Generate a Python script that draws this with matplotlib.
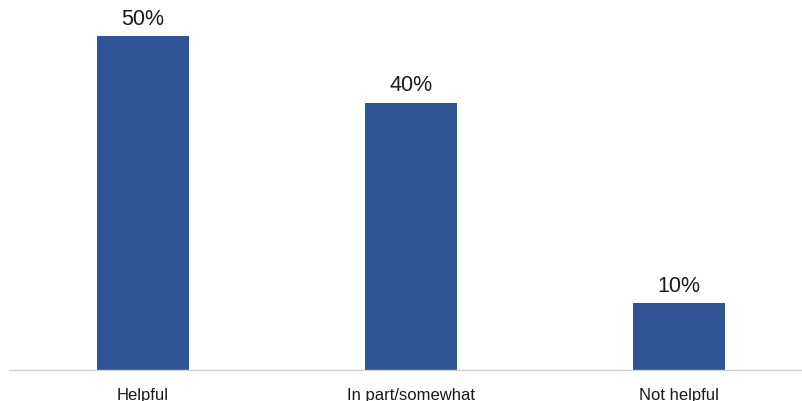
import matplotlib
matplotlib.use('Agg')
import matplotlib.pyplot as plt

categories = ['Helpful', 'In part/somewhat', 'Not helpful']
values = [50, 40, 10]
labels = ['50%', '40%', '10%']

plt.rcParams['font.family'] = ['Liberation Sans', 'DejaVu Sans']

fig = plt.figure(figsize=(8.02, 4.02), dpi=100)
ax = fig.add_axes([9 / 802, 31 / 402, 793 / 802, 371 / 402])

x = range(len(categories))
bars = ax.bar(x, values, width=92 / 268, color='#2F5597')

for b, lab in zip(bars, labels):
    ax.annotate(lab, (b.get_x() + b.get_width() / 2, b.get_height()),
                xytext=(0, 5.5), textcoords='offset points',
                ha='center', va='bottom', fontsize=15.5, color='#1a1a1a')

ax.set_xlim(-0.5, 2.459)
ax.set_ylim(0, 55.6)
ax.set_xticks(list(x))
ax.set_xticklabels(categories, fontsize=12, color='#1a1a1a')
ax.tick_params(axis='x', length=0, pad=12)
ax.set_yticks([])
for s in ['top', 'right', 'left']:
    ax.spines[s].set_visible(False)
ax.spines['bottom'].set_color('#d0d0d0')
ax.spines['bottom'].set_linewidth(1)

fig.savefig('out.png', dpi=100)
